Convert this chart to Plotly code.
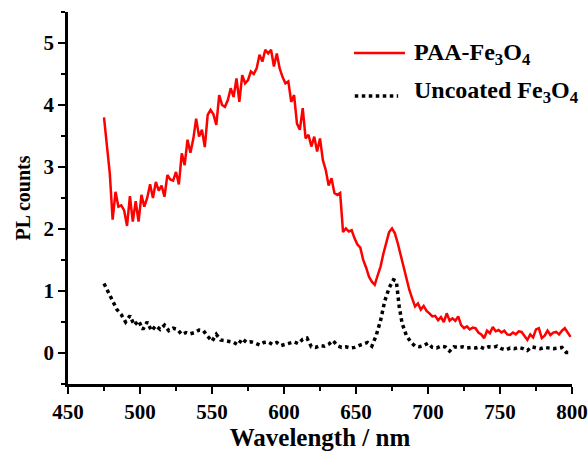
import plotly.graph_objects as go

# Photoluminescence spectra: PAA-coated vs. uncoated Fe3O4 nanoparticles
wl_paa = list(range(475, 800, 2))
pl_paa = [
    3.80, 3.30, 2.90, 2.15, 2.60, 2.36, 2.38, 2.30, 2.05, 2.53,
    2.12, 2.45, 2.12, 2.55, 2.36, 2.50, 2.72, 2.50, 2.76, 2.62,
    2.70, 2.52, 2.87, 2.80, 2.78, 2.92, 2.72, 3.22, 3.03, 3.44,
    3.23, 3.45, 3.78, 3.49, 3.60, 3.32, 3.84, 3.92, 3.85, 3.68,
    4.16, 4.00, 3.97, 4.08, 4.27, 4.13, 4.43, 4.05, 4.48, 4.35,
    4.40, 4.54, 4.50, 4.59, 4.81, 4.70, 4.89, 4.83, 4.89, 4.62,
    4.83, 4.59, 4.45, 4.35, 4.38, 4.05, 4.16, 3.70, 3.60, 3.95,
    3.46, 3.52, 3.33, 3.49, 3.25, 3.46, 3.11, 2.95, 2.70, 2.82,
    2.58, 2.55, 2.58, 1.95, 2.01, 1.96, 1.98, 1.85, 1.75, 1.70,
    1.50, 1.38, 1.23, 1.15, 1.10, 1.25, 1.39, 1.60, 1.77, 1.95,
    2.01, 1.93, 1.77, 1.58, 1.38, 1.18, 1.02, 0.88, 0.75, 0.80,
    0.70, 0.76, 0.68, 0.64, 0.59, 0.60, 0.53, 0.58, 0.50, 0.64,
    0.52, 0.56, 0.52, 0.59, 0.45, 0.40, 0.43, 0.38, 0.41, 0.40,
    0.33, 0.30, 0.24, 0.36, 0.32, 0.42, 0.35, 0.37, 0.33, 0.36,
    0.30, 0.29, 0.33, 0.30, 0.35, 0.34, 0.28, 0.21, 0.30, 0.25,
    0.38, 0.40, 0.24, 0.28, 0.36, 0.29, 0.33, 0.34, 0.30, 0.36,
    0.40, 0.33, 0.26,
]

wl_bare = [
    475, 478, 481, 484, 487, 490, 493, 496, 499, 502,
    505, 508, 511, 514, 517, 520, 523, 526, 529, 532,
    535, 538, 541, 544, 547, 550, 553, 556, 559, 562,
    565, 568, 571, 574, 577, 580, 583, 586, 589, 592,
    595, 598, 601, 604, 607, 610, 613, 616, 619, 622,
    625, 628, 631, 634, 637, 640, 643, 646, 649, 652,
    655, 658, 661, 664, 667, 670, 673, 676, 678, 680,
    682, 685, 688, 691, 694, 697, 700, 703, 706, 709,
    712, 715, 718, 721, 724, 727, 730, 733, 736, 739,
    742, 745, 748, 751, 754, 757, 760, 763, 766, 769,
    772, 775, 778, 781, 784, 787, 790, 793, 796, 799,
]
pl_bare = [
    1.12, 0.97, 0.82, 0.70, 0.62, 0.50, 0.60, 0.45, 0.52, 0.38,
    0.50, 0.36, 0.44, 0.38, 0.45, 0.36, 0.40, 0.38, 0.30, 0.33,
    0.31, 0.33, 0.37, 0.36, 0.27, 0.19, 0.30, 0.21, 0.20, 0.18,
    0.17, 0.13, 0.23, 0.17, 0.18, 0.16, 0.13, 0.17, 0.18, 0.14,
    0.17, 0.12, 0.14, 0.16, 0.18, 0.15, 0.22, 0.24, 0.10, 0.09,
    0.12, 0.11, 0.14, 0.20, 0.12, 0.09, 0.10, 0.08, 0.09, 0.12,
    0.15, 0.17, 0.11, 0.28, 0.52, 0.84, 1.05, 1.18, 1.16, 0.75,
    0.48, 0.28, 0.18, 0.11, 0.10, 0.12, 0.16, 0.09, 0.08, 0.11,
    0.10, 0.03, 0.10, 0.09, 0.10, 0.08, 0.09, 0.08, 0.10, 0.07,
    0.10, 0.09, 0.11, 0.07, 0.05, 0.08, 0.07, 0.09, 0.07, 0.04,
    0.10, 0.08, 0.07, 0.09, 0.08, 0.07, 0.08, 0.09, 0.01, 0.01,
]

x_ticks = [450, 500, 550, 600, 650, 700, 750, 800]
y_ticks = [0, 1, 2, 3, 4, 5]

name_paa = "PAA-Fe<sub>3</sub>O<sub>4</sub>"
name_bare = "Uncoated Fe<sub>3</sub>O<sub>4</sub>"

FONT = "Liberation Serif"
RED = "#ff0000"


def bold_font(size):
    return dict(family=FONT, size=size, color="black", weight="bold")


fig = go.Figure()
fig.add_trace(go.Scatter(
    x=wl_paa, y=pl_paa, mode="lines", name=name_paa,
    line=dict(color=RED, width=2.5), showlegend=False,
))
fig.add_trace(go.Scatter(
    x=wl_bare, y=pl_bare, mode="lines", name=name_bare,
    line=dict(color="black", width=3.5, dash="dot"), showlegend=False,
))

fig.update_xaxes(
    range=[450, 800], tickvals=x_ticks,
    showline=True, linecolor="black", linewidth=2.5,
    ticks="outside", ticklen=7, tickwidth=2, tickcolor="black",
    showgrid=False, zeroline=False,
    tickfont=bold_font(21),
    minor=dict(dtick=25, tick0=450, ticks="outside", ticklen=4, tickwidth=2,
               tickcolor="black", showgrid=False),
    title=dict(text="Wavelength / nm", standoff=6, font=bold_font(25)),
)
fig.update_yaxes(
    range=[-0.5, 5.5], tickvals=y_ticks,
    showline=True, linecolor="black", linewidth=2.5,
    ticks="outside", ticklen=7, tickwidth=2, tickcolor="black",
    showgrid=False, zeroline=False,
    tickfont=bold_font(21),
    minor=dict(dtick=0.5, tick0=0, ticks="outside", ticklen=4, tickwidth=2,
               tickcolor="black", showgrid=False),
    title=dict(text="PL counts", standoff=8, font=bold_font(20)),
)

# Legend drawn as line samples plus labels in the upper right corner
fig.add_shape(type="line", xref="paper", yref="paper",
              x0=0.5675, x1=0.6687, y0=0.8898, y1=0.8898,
              line=dict(color=RED, width=2.5))
fig.add_shape(type="line", xref="paper", yref="paper",
              x0=0.569, x1=0.655, y0=0.774, y1=0.774,
              line=dict(color="black", width=3.5, dash="dot"))
fig.add_annotation(xref="paper", yref="paper", x=0.6825, y=0.887,
                   xanchor="left", yanchor="middle", showarrow=False,
                   text=name_paa, font=bold_font(24))
fig.add_annotation(xref="paper", yref="paper", x=0.6825, y=0.785,
                   xanchor="left", yanchor="middle", showarrow=False,
                   text=name_bare, font=bold_font(24))

fig.update_layout(
    width=588, height=453,
    margin=dict(l=68, r=16, t=12, b=69, autoexpand=False),
    plot_bgcolor="white", paper_bgcolor="white",
    showlegend=False,
)

fig.write_html("out.html")
